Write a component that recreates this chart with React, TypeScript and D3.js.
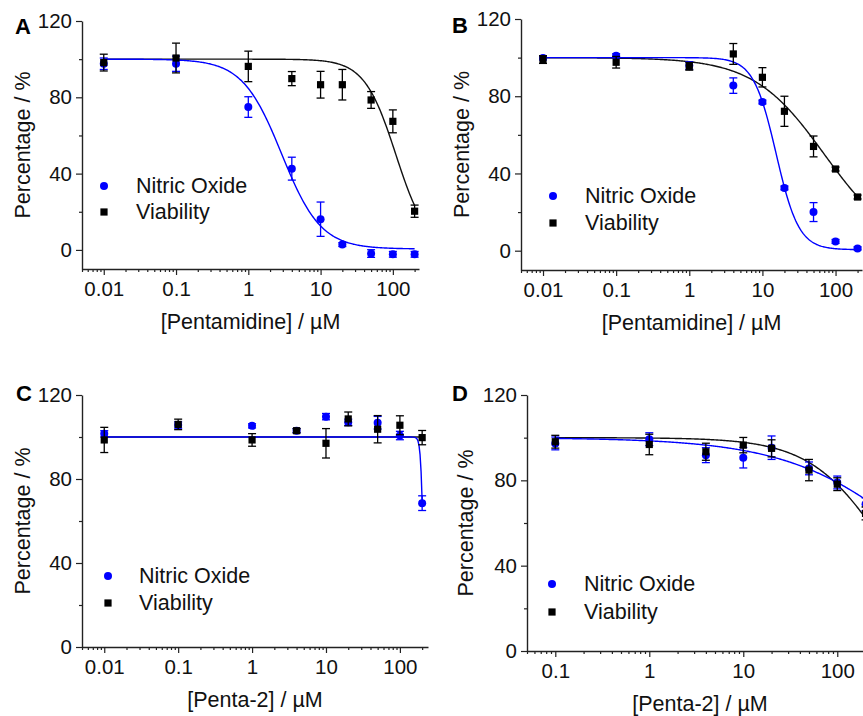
import React, { useEffect, useRef } from 'react';
import * as d3 from 'd3';

const W = 863;
const H = 716;

// concentrations in µM
const concA = [0.01, 0.1, 1, 4, 10, 20, 50, 100, 200];
const concB = [0.01, 0.1, 1, 4, 10, 20, 50, 100, 200];
const concC = [0.01, 0.1, 1, 4, 10, 20, 50, 100, 200];
const concD = [0.1, 1, 4, 10, 20, 50, 100, 200];

// A - pentamidine
const noA = [97.6, 97.6, 74.9, 42.6, 16.1, 2.8, -1.9, -2.3, -2.3];
const noErrA = [3, 4, 5.4, 6, 9, 1, 2, 1.5, 1.5];
const viaA = [98.2, 100.6, 96.2, 89.8, 86.6, 86.6, 78.6, 67.4, 20.3];
const viaErrA = [4.4, 7.8, 8, 3.7, 7, 8, 4.4, 6, 3.2];

// B - pentamidine
const noB = [99.8, 101, 95.9, 85.5, 77, 32.5, 20, 4.8, 1.2];
const noErrB = [1, 1, 2, 4, 1, 1, 4.9, 1, 0.8];
const viaB = [99, 97.6, 95.5, 101.9, 89.8, 72.2, 54, 42.3, 27.8];
const viaErrB = [2, 3, 2, 5.4, 5, 7.8, 5.4, 1, 1];

// C - penta-2
const noC = [101.5, 105.7, 105.3, 103, 109.7, 107, 106.8, 100.7, 68.5];
const noErrC = [1.5, 1.5, 1, 1, 1.5, 1.5, 3, 2, 3.5];
const viaC = [98.6, 106, 98.6, 103, 97, 108.6, 103.7, 105.6, 99.7];
const viaErrC = [6, 2.5, 3, 1, 7, 3.3, 6.5, 4.5, 3.4];

// D - penta-2
const noD = [97.3, 99.3, 91.8, 90.6, 95.3, 85.6, 79, 68.8];
const noErrD = [3, 3, 3.5, 4.8, 5.5, 3, 3, 3];
const viaD = [98.1, 96.8, 93.4, 96.5, 95, 84.8, 78.2, 64.5];
const viaErrD = [3, 4.8, 4, 3.6, 4, 5, 3, 3];

// dose-response fits: [top, bottom, IC50, hill slope]
const fitNoA = [100, 0.5, 2.9, 1.6];
const fitViaA = [100, 0, 110, 2];
const fitNoB = [100, 0.5, 15.4, 2.8];
const fitViaB = [100, 0, 70, 0.9];
const fitNoC = [100, 0, 207, 24];
const fitViaC = [100, 100, 100, 1];
const fitNoD = [100, 0, 846, 0.62];
const fitViaD = [100, 0, 316, 1.1];

const penta = '[Pentamidine] / µM';
const penta2 = '[Penta-2] / µM';

const BLUE = '#0000ff';
const FONT = '"Liberation Sans", Arial, sans-serif';

const panels = [
  { id: 'A', x0: 82, x1: 419, yb: 269, yt: 21, xDom: [0.005, 230], yDom: [-10, 120], xTicks: [0.01, 0.1, 1, 10, 100],
    conc: concA, no: noA, noErr: noErrA, via: viaA, viaErr: viaErrA, fitNo: fitNoA, fitVia: fitViaA, title: penta,
    lab: [15, 34], yTx: 22.5, leg: [104, 186, 212, 136] },
  { id: 'B', x0: 521, x1: 862, yb: 270, yt: 19, xDom: [0.005, 230], yDom: [-10, 120], xTicks: [0.01, 0.1, 1, 10, 100],
    conc: concB, no: noB, noErr: noErrB, via: viaB, viaErr: viaErrB, fitNo: fitNoB, fitVia: fitViaB, title: penta,
    lab: [452, 33], yTx: 461.5, leg: [553, 196, 223, 585] },
  { id: 'C', x0: 82, x1: 428, yb: 647, yt: 395, xDom: [0.005, 240], yDom: [0, 120], xTicks: [0.01, 0.1, 1, 10, 100],
    conc: concC, no: noC, noErr: noErrC, via: viaC, viaErr: viaErrC, fitNo: fitNoC, fitVia: fitViaC, title: penta2,
    lab: [16, 401], yTx: 22.5, leg: [108, 576, 603, 139] },
  { id: 'D', x0: 527, x1: 873, yb: 651, yt: 395, xDom: [0.05, 240], yDom: [0, 120], xTicks: [0.1, 1, 10, 100],
    conc: concD, no: noD, noErr: noErrD, via: viaD, viaErr: viaErrD, fitNo: fitNoD, fitVia: fitViaD, title: penta2,
    lab: [452, 401], yTx: 466, leg: [552, 584, 612, 584] },
];

const hill = (p: number[], c: number) => p[1] + (p[0] - p[1]) / (1 + Math.pow(c / p[2], p[3]));

function drawPanel(svg: any, p: any) {
  const x = d3.scaleLog().domain(p.xDom).range([p.x0, p.x1]);
  const y = d3.scaleLinear().domain(p.yDom).range([p.yb, p.yt]);
  const g = svg.append('g');

  // minor ticks
  const minorX: number[] = [];
  for (let e = -3; e <= 2; e++) {
    for (let k = 2; k <= 9; k++) {
      const v = k * Math.pow(10, e);
      if (v >= p.xDom[0] && v <= p.xDom[1]) minorX.push(v);
    }
  }
  g.append('g').attr('transform', `translate(0,${p.yb})`)
    .call(d3.axisBottom(x).tickValues(minorX).tickSize(3).tickSizeOuter(0).tickFormat(() => ''))
    .call((s: any) => s.select('.domain').remove());
  g.append('g').attr('transform', `translate(${p.x0},0)`)
    .call(d3.axisLeft(y).tickValues([20, 60, 100]).tickSize(3).tickSizeOuter(0).tickFormat(() => ''))
    .call((s: any) => s.select('.domain').remove());

  const xa = g.append('g').attr('transform', `translate(0,${p.yb})`)
    .call(d3.axisBottom(x).tickValues(p.xTicks).tickSize(6).tickSizeOuter(0).tickPadding(6).tickFormat((d: any) => String(d)));
  const ya = g.append('g').attr('transform', `translate(${p.x0},0)`)
    .call(d3.axisLeft(y).tickValues([0, 40, 80, 120]).tickSize(6).tickSizeOuter(0).tickPadding(4));
  [xa, ya].forEach((a: any) => {
    a.selectAll('text').attr('font-family', FONT).attr('font-size', 20.5).attr('fill', '#111');
    a.selectAll('line').attr('stroke', '#222').attr('stroke-width', 1.2);
    a.select('.domain').attr('stroke', '#222').attr('stroke-width', 1.4);
  });
  g.selectAll('.tick line').attr('stroke', '#222').attr('stroke-width', 1.2);

  // titles
  g.append('text').attr('x', (p.x0 + p.x1) / 2).attr('y', p.yb + 53).attr('text-anchor', 'middle')
    .attr('dominant-baseline', 'central').attr('font-family', FONT).attr('font-size', 21.5).attr('fill', '#111').text(p.title);
  const cy = (p.yb + p.yt) / 2;
  g.append('text').attr('transform', `translate(${p.yTx},${cy}) rotate(-90)`).attr('text-anchor', 'middle')
    .attr('dominant-baseline', 'central').attr('font-family', FONT).attr('font-size', 21.5).attr('fill', '#111')
    .text('Percentage / %');
  g.append('text').attr('x', p.lab[0]).attr('y', p.lab[1]).attr('font-family', FONT).attr('font-weight', 'bold')
    .attr('font-size', 22).attr('fill', '#000').text(p.id);

  // fitted curves
  const lo = Math.log10(d3.min(p.conc) as number);
  const hi = Math.log10(d3.max(p.conc) as number);
  const cs = d3.range(0, 301).map(i => Math.pow(10, lo + (hi - lo) * i / 300));
  const line = (fp: number[]) => d3.line<number>().x(c => x(c)).y(c => y(hill(fp, c)))(cs);
  g.append('path').attr('d', line(p.fitVia)).attr('fill', 'none').attr('stroke', '#111').attr('stroke-width', 1.4);
  g.append('path').attr('d', line(p.fitNo)).attr('fill', 'none').attr('stroke', BLUE).attr('stroke-width', 1.4);

  // error bars + markers
  const series = [
    { v: p.no, e: p.noErr, col: BLUE, shape: 'circle' },
    { v: p.via, e: p.viaErr, col: '#000', shape: 'square' },
  ];
  series.forEach(s => {
    const eb = g.append('g').attr('stroke', s.col).attr('stroke-width', 1.3);
    p.conc.forEach((c: number, i: number) => {
      const cx = x(c), top = y(s.v[i] + s.e[i]), bot = y(s.v[i] - s.e[i]);
      eb.append('line').attr('x1', cx).attr('x2', cx).attr('y1', top).attr('y2', bot);
      eb.append('line').attr('x1', cx - 4).attr('x2', cx + 4).attr('y1', top).attr('y2', top);
      eb.append('line').attr('x1', cx - 4).attr('x2', cx + 4).attr('y1', bot).attr('y2', bot);
    });
    if (s.shape === 'circle') {
      g.selectAll(null).data(p.conc).enter().append('circle')
        .attr('cx', (c: number) => x(c)).attr('cy', (c: number, i: number) => y(s.v[i])).attr('r', 4).attr('fill', s.col);
    } else {
      g.selectAll(null).data(p.conc).enter().append('rect')
        .attr('x', (c: number) => x(c) - 3.6).attr('y', (c: number, i: number) => y(s.v[i]) - 3.6)
        .attr('width', 7.2).attr('height', 7.2).attr('fill', s.col);
    }
  });

  // legend
  const [lx, ly1, ly2, tx] = p.leg;
  g.append('circle').attr('cx', lx).attr('cy', ly1).attr('r', 4).attr('fill', BLUE);
  g.append('rect').attr('x', lx - 3.6).attr('y', ly2 - 3.6).attr('width', 7.2).attr('height', 7.2).attr('fill', '#000');
  [['Nitric Oxide', ly1], ['Viability', ly2]].forEach(([t, yy]) => {
    g.append('text').attr('x', tx).attr('y', yy).attr('dominant-baseline', 'central').attr('font-family', FONT)
      .attr('font-size', 21.5).attr('fill', '#111').text(t as string);
  });
}

export default function App() {
  const ref = useRef<SVGSVGElement>(null);

  useEffect(() => {
    const svg = d3.select(ref.current);
    svg.selectAll('*').remove();
    svg.append('rect').attr('width', W).attr('height', H).attr('fill', '#fff');
    panels.forEach(p => drawPanel(svg, p));
  }, []);

  return (
    <svg ref={ref} width={W} height={H} style={{ position: 'absolute', left: 0, top: 0 }} />
  );
}
